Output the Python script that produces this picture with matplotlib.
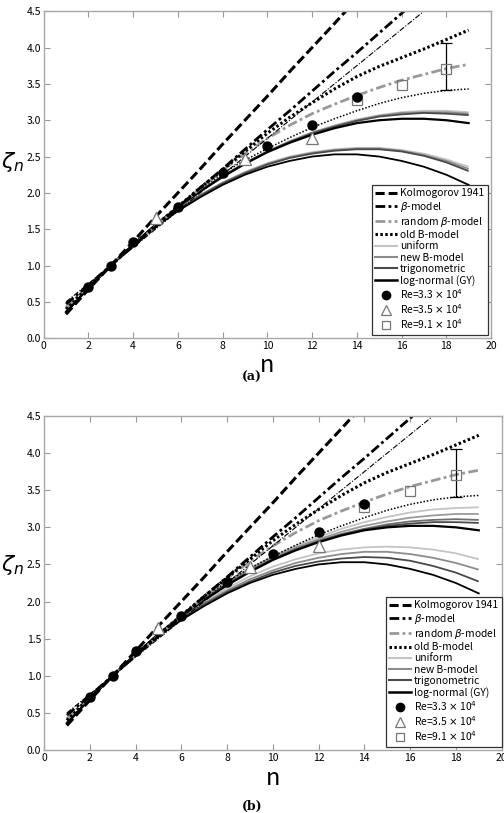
import matplotlib

matplotlib.use('Agg')
import matplotlib.pyplot as plt
from matplotlib.lines import Line2D

plt.rcParams['font.family'] = ['Noto Sans CJK JP', 'DejaVu Sans']
plt.rcParams['mathtext.fontset'] = 'dejavusans'

# orders n for the model curves
n_vals = list(range(1, 20))

# curves shared by both panels
k41 = [0.33, 0.67, 1.0, 1.33, 1.67, 2.0, 2.33, 2.67, 3.0, 3.33, 3.67, 4.0, 4.33, 4.67, 5.0, 5.33, 5.67, 6.0, 6.33]
beta_model = [0.47, 0.73, 1.0, 1.27, 1.53, 1.8, 2.07, 2.33, 2.6, 2.87, 3.13, 3.4, 3.67, 3.93, 4.2, 4.47, 4.73, 5.0, 5.27]
beta_thin = [0.5, 0.75, 1.0, 1.25, 1.5, 1.75, 2.0, 2.25, 2.5, 2.75, 3.0, 3.25, 3.5, 3.75, 4.0, 4.25, 4.5, 4.75, 5.0]
random_beta = [0.42, 0.72, 1.0, 1.27, 1.54, 1.8, 2.06, 2.31, 2.54, 2.75, 2.93, 3.09, 3.22, 3.34, 3.45, 3.55, 3.63, 3.71, 3.77]
old_b = [0.40, 0.71, 1.0, 1.28, 1.55, 1.81, 2.07, 2.32, 2.57, 2.82, 3.04, 3.24, 3.43, 3.60, 3.74, 3.86, 3.98, 4.11, 4.24]
old_b_thin = [0.37, 0.70, 1.0, 1.29, 1.56, 1.81, 2.05, 2.27, 2.45, 2.61, 2.76, 2.90, 3.02, 3.13, 3.23, 3.31, 3.37, 3.41, 3.43]
lognormal_up = [0.36, 0.69, 1.0, 1.29, 1.56, 1.8, 2.02, 2.22, 2.4, 2.56, 2.69, 2.8, 2.89, 2.96, 3.0, 3.02, 3.02, 3.0, 2.96]
lognormal_lo = [0.36, 0.69, 1.0, 1.28, 1.53, 1.75, 1.94, 2.11, 2.25, 2.36, 2.44, 2.5, 2.53, 2.53, 2.5, 2.44, 2.36, 2.25, 2.11]

# panel (a) gray curves: uniform, new B-model, trigonometric
a_uniform_up = [0.36, 0.69, 1.0, 1.29, 1.56, 1.81, 2.03, 2.23, 2.41, 2.57, 2.71, 2.83, 2.93, 3.01, 3.07, 3.11, 3.13, 3.13, 3.11]
a_newb_up = [0.36, 0.69, 1.0, 1.29, 1.56, 1.81, 2.03, 2.23, 2.41, 2.57, 2.71, 2.83, 2.92, 3.0, 3.06, 3.1, 3.11, 3.11, 3.09]
a_trig_up = [0.36, 0.69, 1.0, 1.29, 1.56, 1.81, 2.03, 2.23, 2.41, 2.57, 2.70, 2.82, 2.91, 2.99, 3.05, 3.08, 3.10, 3.09, 3.07]
a_uniform_lo = [0.36, 0.69, 1.0, 1.28, 1.54, 1.77, 1.97, 2.14, 2.29, 2.41, 2.50, 2.56, 2.60, 2.62, 2.62, 2.59, 2.54, 2.46, 2.36]
a_newb_lo = [0.36, 0.69, 1.0, 1.28, 1.54, 1.77, 1.97, 2.14, 2.28, 2.40, 2.49, 2.55, 2.59, 2.61, 2.61, 2.58, 2.52, 2.44, 2.33]
a_trig_lo = [0.36, 0.69, 1.0, 1.28, 1.54, 1.76, 1.96, 2.13, 2.27, 2.39, 2.48, 2.54, 2.58, 2.60, 2.60, 2.57, 2.51, 2.42, 2.30]

# panel (b) gray curves
b_uniform_up = [0.36, 0.69, 1.0, 1.29, 1.57, 1.82, 2.05, 2.26, 2.45, 2.61, 2.75, 2.87, 2.98, 3.07, 3.14, 3.20, 3.24, 3.26, 3.27]
b_newb_up = [0.36, 0.69, 1.0, 1.29, 1.57, 1.82, 2.05, 2.25, 2.44, 2.60, 2.73, 2.84, 2.94, 3.02, 3.08, 3.13, 3.16, 3.18, 3.18]
b_trig_up = [0.36, 0.69, 1.0, 1.29, 1.56, 1.81, 2.04, 2.24, 2.42, 2.58, 2.71, 2.82, 2.91, 2.98, 3.04, 3.08, 3.10, 3.11, 3.10]
b_dark_up = [0.36, 0.69, 1.0, 1.29, 1.56, 1.81, 2.03, 2.23, 2.41, 2.57, 2.70, 2.81, 2.90, 2.97, 3.02, 3.05, 3.07, 3.07, 3.06]
b_uniform_lo = [0.36, 0.69, 1.0, 1.29, 1.55, 1.79, 2.0, 2.18, 2.34, 2.47, 2.57, 2.65, 2.70, 2.73, 2.74, 2.73, 2.70, 2.65, 2.57]
b_newb_lo = [0.36, 0.69, 1.0, 1.28, 1.54, 1.78, 1.98, 2.15, 2.30, 2.42, 2.52, 2.59, 2.64, 2.67, 2.67, 2.64, 2.59, 2.52, 2.43]
b_trig_lo = [0.36, 0.69, 1.0, 1.28, 1.54, 1.77, 1.96, 2.13, 2.27, 2.39, 2.48, 2.54, 2.58, 2.60, 2.59, 2.55, 2.48, 2.39, 2.27]

# measurements
re33_n = [2, 3, 4, 6, 8, 10, 12, 14]
re33_z = [0.71, 1.0, 1.33, 1.8, 2.27, 2.64, 2.94, 3.32]
re35_n = [5, 9, 12]
re35_z = [1.65, 2.46, 2.75]
re91_n = [14, 16, 18]
re91_z = [3.28, 3.49, 3.71]
err_n = 18
err_lo = 3.41
err_hi = 4.06

legend_labels = ['Kolmogorov 1941', r'$\beta$-model', r'random $\beta$-model', 'old B-model',
                 'uniform', 'new B-model', 'trigonometric', 'log-normal (GY)',
                 r'Re=3.3 $\times$ 10$^4$', r'Re=3.5 $\times$ 10$^4$', r'Re=9.1 $\times$ 10$^4$']

C_UNI = '#c4c4c4'
C_NEWB = '#8c8c8c'
C_TRIG = '#4a4a4a'


def draw_panel(ax, upper, lower, xlab_y, ylab_xy, leg_anchor):
    # gray model bundles first, black log-normal on top
    for vals, col in upper + lower:
        ax.plot(n_vals, vals, color=col, lw=1.3, solid_capstyle='butt')
    ax.plot(n_vals, lognormal_up, color='black', lw=1.6)
    ax.plot(n_vals, lognormal_lo, color='black', lw=1.3)

    ax.plot(n_vals, old_b_thin, color='black', lw=1.1, dashes=(1, 1.2))
    ax.plot(n_vals, random_beta, color='#999999', lw=2.0, dashes=(3.5, 1.2, 1, 1.2))
    ax.plot(n_vals, old_b, color='black', lw=2.2, dashes=(0.8, 0.8))
    ax.plot(n_vals, beta_thin, color='black', lw=0.8, dashes=(5, 1.5, 1, 1.5))
    ax.plot(n_vals, beta_model, color='black', lw=2.0, dashes=(3.5, 1.2, 1, 1.2))
    ax.plot(n_vals, k41, color='black', lw=2.2, dashes=(3, 1.3))

    ax.errorbar([err_n], [(err_lo + err_hi) / 2], yerr=[[(err_hi - err_lo) / 2], [(err_hi - err_lo) / 2]],
                fmt='none', ecolor='black', elinewidth=0.9, capsize=4, capthick=0.9, zorder=5)
    ax.plot(re35_n, re35_z, ls='none', marker='^', ms=8, mfc='white', mec='#777777', mew=0.9, zorder=6)
    ax.plot(re91_n, re91_z, ls='none', marker='s', ms=6.5, mfc='none', mec='#777777', mew=0.9, zorder=6)
    ax.plot(re33_n, re33_z, ls='none', marker='o', ms=6.5, color='black', zorder=7)

    ax.set_xlim(0, 20)
    ax.set_ylim(0, 4.5)
    ax.set_xticks(range(0, 21, 2))
    ax.set_yticks([i * 0.5 for i in range(10)])
    ax.set_yticklabels(['%.1f' % (i * 0.5) for i in range(10)])
    ax.tick_params(direction='in', top=True, right=True, length=4, width=0.8,
                   color='#999999', labelsize=7.5, pad=2)
    for sp in ax.spines.values():
        sp.set_color('#a8a8a8')
        sp.set_linewidth(1.0)

    ax.set_xlabel('n', fontsize=17)
    ax.xaxis.set_label_coords(0.5, xlab_y)
    ax.set_ylabel(r'$\zeta_n$', fontsize=16, rotation=0, va='center', ha='center')
    ax.yaxis.set_label_coords(*ylab_xy)

    handles = [
        Line2D([], [], color='black', lw=2.2, dashes=(3, 1.3)),
        Line2D([], [], color='black', lw=2.0, dashes=(3.5, 1.2, 1, 1.2)),
        Line2D([], [], color='#999999', lw=2.0, dashes=(3.5, 1.2, 1, 1.2)),
        Line2D([], [], color='black', lw=2.2, dashes=(0.8, 0.8)),
        Line2D([], [], color=C_UNI, lw=1.5),
        Line2D([], [], color=C_NEWB, lw=1.5),
        Line2D([], [], color=C_TRIG, lw=1.5),
        Line2D([], [], color='black', lw=1.8),
        Line2D([], [], ls='none', marker='o', ms=6, color='black'),
        Line2D([], [], ls='none', marker='^', ms=7, mfc='white', mec='#777777', mew=0.9),
        Line2D([], [], ls='none', marker='s', ms=5.5, mfc='white', mec='#777777', mew=0.9),
    ]
    leg = ax.legend(handles, legend_labels, loc='lower right', bbox_to_anchor=leg_anchor,
                    fontsize=7.4, labelspacing=0.12, borderpad=0.35, handlelength=2.1,
                    handletextpad=0.3, borderaxespad=0, fancybox=False, framealpha=1,
                    edgecolor='#333333')
    leg.get_frame().set_linewidth(0.9)
    leg.set_zorder(10)


fig = plt.figure(figsize=(5.04, 8.13), dpi=100)
ax1 = fig.add_axes([0.0867, 0.584, 0.8875, 0.4022])
ax2 = fig.add_axes([0.0873, 0.0775, 0.908, 0.4108])

upper_a = [(a_uniform_up, C_UNI), (a_newb_up, C_NEWB), (a_trig_up, C_TRIG)]
lower_a = [(a_uniform_lo, C_UNI), (a_newb_lo, C_NEWB), (a_trig_lo, C_TRIG)]
draw_panel(ax1, upper_a, lower_a, -0.047, (-0.07, 0.54), (0.993, 0.011))

upper_b = [(b_uniform_up, C_UNI), (b_newb_up, '#9a9a9a'), (b_trig_up, '#6e6e6e'), (b_dark_up, C_TRIG)]
lower_b = [(b_uniform_lo, C_UNI), (b_newb_lo, C_NEWB), (b_trig_lo, C_TRIG)]
draw_panel(ax2, upper_b, lower_b, -0.052, (-0.068, 0.555), (1.0, 0.01))

fig.text(0.5, 1 - 377 / 813, '(a)', ha='center', va='center', fontsize=9,
         family='DejaVu Serif', weight='bold')
fig.text(0.5, 1 - 806 / 813, '(b)', ha='center', va='center', fontsize=9,
         family='DejaVu Serif', weight='bold')

plt.savefig('out.png', dpi=100)
